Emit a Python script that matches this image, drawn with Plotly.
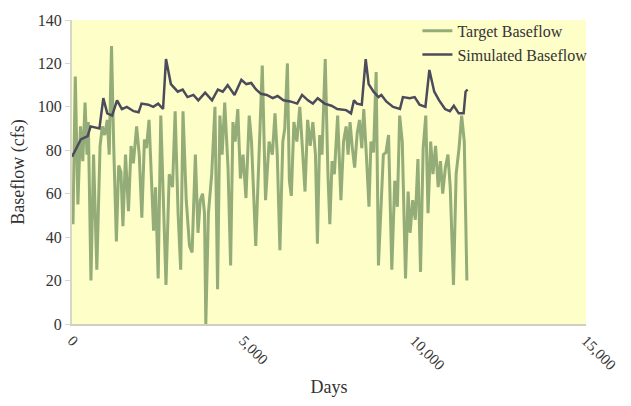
import plotly.graph_objects as go

# Target baseflow (cfs) by day
target_days = [0, 29, 96, 172, 248, 315, 381, 438, 476, 553, 629, 724, 819, 886, 953, 1029, 1086,
               1153, 1219, 1295, 1362, 1429, 1486, 1562, 1648, 1724, 1791, 1886, 1962, 2038, 2114,
               2172, 2248, 2315, 2381, 2438, 2515, 2591, 2667, 2743, 2838, 2934, 3010, 3096, 3172,
               3239, 3334, 3429, 3505, 3600, 3677, 3743, 3810, 3867, 3905, 3981, 4077, 4172, 4248,
               4315, 4381, 4457, 4553, 4629, 4696, 4762, 4838, 4915, 4991, 5077, 5172, 5239, 5362,
               5457, 5553, 5648, 5752, 5847, 5924, 5990, 6067, 6152, 6209, 6286, 6343, 6400, 6476,
               6562, 6648, 6724, 6800, 6876, 6952, 7029, 7105, 7162, 7229, 7295, 7390, 7467, 7524,
               7590, 7657, 7752, 7848, 7924, 8000, 8057, 8114, 8181, 8248, 8324, 8390, 8457, 8514,
               8590, 8667, 8724, 8800, 8876, 8943, 9010, 9086, 9162, 9238, 9333, 9419, 9495, 9562,
               9638, 9733, 9809, 9867, 9943, 10019, 10095, 10171, 10248, 10324, 10390, 10467, 10533,
               10610, 10686, 10752, 10819, 10895, 10971, 11038, 11133, 11210, 11295, 11371, 11448,
               11524]
target_flow = [60, 46, 114, 55, 91, 75, 102, 78, 93, 20, 78, 25, 82, 91, 87, 94, 78,
               128, 81, 38, 73, 70, 45, 78, 52, 82, 74, 91, 78, 49, 85,
               81, 94, 69, 43, 63, 21, 96, 57, 18, 69, 63, 98, 51, 25,
               98, 57, 36, 33, 78, 42, 57, 60, 51, 0, 51, 69, 100, 16,
               96, 78, 102, 72, 27, 93, 84, 99, 67, 78, 58, 96, 84, 36,
               81, 119, 57, 84, 78, 97, 78, 34, 84, 90, 120, 66, 59, 93,
               84, 100, 81, 61, 94, 82, 93, 78, 37, 87, 78, 122, 70, 46,
               75, 69, 96, 57, 84, 91, 78, 93, 81, 72, 88, 94, 81, 99,
               78, 54, 84, 79, 116, 27, 51, 78, 79, 87, 25, 66, 54, 96,
               84, 21, 61, 42, 57, 48, 76, 24, 81, 96, 51, 84, 69,
               82, 63, 75, 60, 72, 78, 63, 18, 69, 81, 96, 84,
               20]

# Simulated baseflow (cfs) by day
sim_days = [0, 257, 457, 543, 800, 914, 1029, 1171, 1314, 1457, 1600, 1800, 1943, 2029, 2229,
            2371, 2514, 2657, 2743, 2886, 3086, 3229, 3371, 3543, 3686, 3886, 4086, 4257, 4400,
            4543, 4743, 4943, 5086, 5229, 5371, 5514, 5686, 5857, 6000, 6171, 6371, 6571, 6714,
            6886, 7029, 7171, 7371, 7571, 7743, 8000, 8143, 8229, 8314, 8457, 8571, 8657, 8800,
            8943, 9029, 9171, 9371, 9571, 9657, 9857, 10000, 10143, 10314, 10429, 10571, 10714,
            10886, 11029, 11143, 11286, 11429, 11486, 11543]
sim_flow = [77, 85, 86.5, 91, 90, 104, 97, 96, 103, 99, 100, 98, 97.5, 101.5, 101,
            100, 101.5, 99, 122, 110.5, 107, 108, 104.5, 105.5, 103, 106.5, 103, 108, 107,
            110, 105.5, 112.5, 110.5, 111, 108, 106, 105.5, 104, 105, 103, 102.5, 101.5, 105.5,
            103, 101.5, 104, 101.5, 100.5, 99, 98.5, 97, 103, 101.5, 101, 122, 110.5, 107,
            104.5, 105.5, 102.5, 100, 99, 104.5, 104, 104.5, 101, 100, 117, 107, 103,
            99, 98, 100.5, 97, 97, 107, 108]

y_ticks = [0, 20, 40, 60, 80, 100, 120, 140]
x_ticks = [0, 5000, 10000, 15000]
x_tick_labels = ["0", "5,000", "10,000", "15,000"]

serif = "Liberation Serif, Times New Roman, serif"
ink = "#333333"

fig = go.Figure()
fig.add_trace(go.Scatter(
    x=target_days, y=target_flow, mode="lines", name="Target Baseflow",
    line=dict(color="#93ac78", width=3),
))
fig.add_trace(go.Scatter(
    x=sim_days, y=sim_flow, mode="lines", name="Simulated Baseflow",
    line=dict(color="#4b4b5c", width=2.5),
))

fig.update_layout(
    width=631, height=406,
    margin=dict(l=72, r=34, t=16, b=78),
    paper_bgcolor="white",
    plot_bgcolor="#fefec9",
    font=dict(family=serif, size=16, color=ink),
    showlegend=True,
    legend=dict(
        x=0.672, y=1.02, xanchor="left", yanchor="top",
        bgcolor="rgba(0,0,0,0)", font=dict(family=serif, size=16, color=ink),
        tracegroupgap=0, itemwidth=30,
    ),
    xaxis=dict(
        range=[0, 15000], tickvals=x_ticks, ticktext=x_tick_labels, tickangle=45,
        showgrid=False, zeroline=False, showline=True, linecolor="#cfcfc0", linewidth=2,
        ticks="", tickfont=dict(family=serif, size=15, color=ink),
        title=dict(text="Days", font=dict(family=serif, size=18, color=ink), standoff=8),
    ),
    yaxis=dict(
        range=[0, 140], tickvals=y_ticks,
        showgrid=False, zeroline=False, showline=True, linecolor="#d7d7c4", linewidth=2,
        ticks="outside", ticklen=5, tickcolor="#d7d7c4",
        tickfont=dict(family=serif, size=16, color=ink),
        title=dict(text="Baseflow (cfs)", font=dict(family=serif, size=18, color=ink), standoff=8),
    ),
)

fig.write_html("out.html")
